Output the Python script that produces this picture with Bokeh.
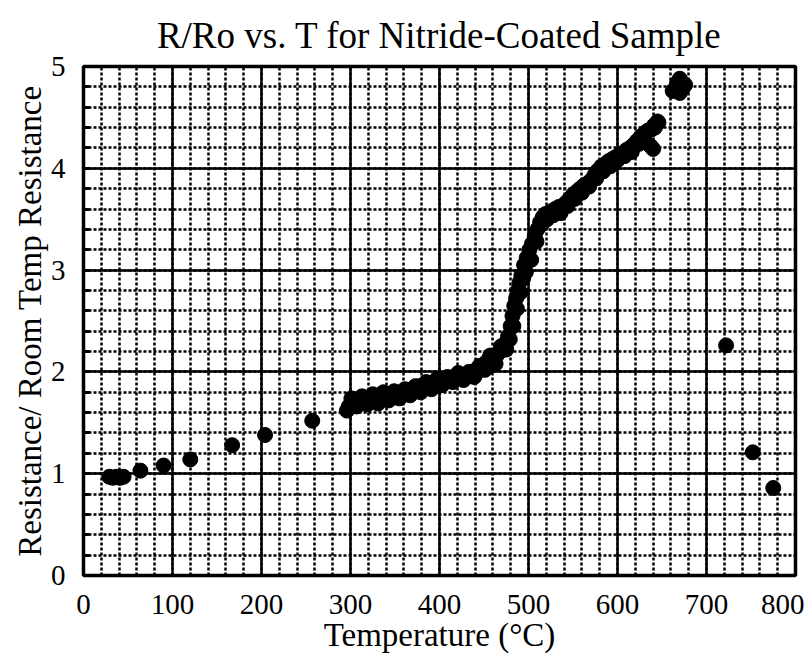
from bokeh.plotting import figure
from bokeh.models import Range1d, SingleIntervalTicker
from bokeh.embed import file_html
from bokeh.resources import INLINE

# ---- data ----
temp_low = [29, 33, 37, 41, 45, 64, 90, 120, 167, 204, 257]
ratio_low = [0.97, 0.96, 0.97, 0.96, 0.97, 1.03, 1.08, 1.14, 1.28, 1.38, 1.52]

temp_band = [296, 298, 300, 303, 306, 309, 312, 315, 318, 321, 324, 327, 330, 333,
             336, 339, 342, 345, 348, 351, 354, 357, 360, 363, 366, 369, 372, 375,
             378, 381, 384, 387, 390, 393, 396, 399, 402, 405, 408, 411, 414, 417,
             420, 423, 426, 429, 432, 435, 438, 441, 444, 447, 450, 453, 456, 459,
             462, 465, 468, 471, 474, 477, 480, 482, 484, 486, 488, 490, 492, 495,
             498, 501, 504, 507, 510, 513, 516, 519, 522, 526, 530, 534, 538, 542,
             546, 550, 554, 558, 562, 566, 570, 574, 578, 582, 586, 590, 594, 598,
             602, 606, 610, 614, 618, 622, 626, 630, 634, 638, 642, 646,
             628, 633, 641, 645, 637, 640]
ratio_band = [1.62, 1.66, 1.68, 1.70, 1.68, 1.71, 1.72, 1.70, 1.73, 1.72, 1.74, 1.71, 1.75, 1.74,
              1.76, 1.73, 1.77, 1.76, 1.78, 1.75, 1.79, 1.80, 1.78, 1.81, 1.80, 1.83, 1.84, 1.82,
              1.86, 1.85, 1.87, 1.88, 1.86, 1.89, 1.90, 1.88, 1.92, 1.91, 1.93, 1.92, 1.94, 1.93,
              1.95, 1.96, 1.94, 1.97, 1.98, 1.96, 2.00, 2.02, 2.01, 2.05, 2.07, 2.10, 2.12, 2.11,
              2.15, 2.17, 2.20, 2.24, 2.28, 2.35, 2.45, 2.55, 2.65, 2.72, 2.80, 2.88, 2.95, 3.05,
              3.12, 3.20, 3.26, 3.33, 3.40, 3.47, 3.52, 3.55, 3.56, 3.58, 3.60, 3.62, 3.63, 3.66,
              3.70, 3.74, 3.77, 3.80, 3.83, 3.85, 3.88, 3.93, 3.98, 4.02, 4.04, 4.07, 4.09, 4.11,
              4.13, 4.15, 4.18, 4.20, 4.23, 4.27, 4.31, 4.34, 4.37, 4.38, 4.40, 4.45,
              4.30, 4.36, 4.42, 4.46, 4.22, 4.19]

# second, scattered row of readings within the dense band
temp_band2 = [301, 307, 313, 319, 325, 331, 337, 343, 349, 355, 361, 367, 373, 379,
              385, 391, 397, 403, 409, 415, 421, 427, 433, 439, 445, 451, 457, 463,
              469, 475, 479, 483, 487, 491, 494, 497, 503, 509, 515, 521, 528, 536,
              544, 552, 560, 568, 576, 584, 592, 600, 608, 616, 624]
ratio_band2 = [1.74, 1.66, 1.76, 1.68, 1.78, 1.69, 1.80, 1.72, 1.81, 1.74, 1.83, 1.77, 1.86, 1.80,
               1.90, 1.83, 1.93, 1.87, 1.95, 1.90, 1.99, 1.92, 2.00, 1.95, 2.06, 2.02, 2.16, 2.08,
               2.25, 2.22, 2.32, 2.45, 2.62, 2.78, 2.92, 2.98, 3.10, 3.28, 3.45, 3.50, 3.54, 3.56,
               3.63, 3.70, 3.76, 3.82, 3.90, 3.97, 4.02, 4.08, 4.12, 4.16, 4.24]

temp_top = [662, 667, 670, 673, 676, 670]
ratio_top = [4.76, 4.84, 4.88, 4.78, 4.82, 4.74]

temp_high = [722, 752, 775]
ratio_high = [2.26, 1.21, 0.86]

title_text = "R/Ro vs. T for Nitride-Coated Sample"
x_label = "Temperature (°C)"
y_label = "Resistance/ Room Temp Resistance"

FONT = "Liberation Serif"

p = figure(width=804, height=655, output_backend="svg", toolbar_location=None,
           x_range=Range1d(0, 800), y_range=Range1d(0, 5),
           min_border_left=83, min_border_right=9, min_border_top=66, min_border_bottom=74,
           title=title_text)

p.title.text_font = FONT
p.title.text_font_size = "37px"
p.title.text_font_style = "normal"
p.title.align = "center"
p.title.text_color = "black"
p.title.standoff = 22

p.xaxis.ticker = SingleIntervalTicker(interval=100, num_minor_ticks=5)
p.yaxis.ticker = SingleIntervalTicker(interval=1, num_minor_ticks=5)

for ax in (p.xaxis[0], p.yaxis[0]):
    ax.axis_line_color = "black"
    ax.axis_line_width = 3
    ax.major_tick_in = 0
    ax.major_tick_out = 0
    ax.major_label_text_font = FONT
    ax.major_label_text_font_size = "29px"
    ax.major_label_text_color = "black"
    ax.axis_label_text_font = FONT
    ax.axis_label_text_font_style = "normal"
    ax.axis_label_text_color = "black"

p.xaxis.axis_label = x_label
p.yaxis.axis_label = y_label
p.xaxis.axis_label_text_font_size = "33px"
p.yaxis.axis_label_text_font_size = "33px"
p.xaxis.minor_tick_in = 0
p.xaxis.minor_tick_out = 0
p.yaxis.minor_tick_in = 6
p.yaxis.minor_tick_out = 0
p.yaxis.minor_tick_line_color = "black"
p.yaxis.minor_tick_line_width = 3
p.xaxis.major_label_standoff = 19
p.yaxis.major_label_standoff = 18
p.xaxis.axis_label_standoff = 0
p.yaxis.axis_label_standoff = 0

for g in (p.xgrid[0], p.ygrid[0]):
    g.grid_line_color = "black"
    g.grid_line_width = 2.5
    g.grid_line_alpha = 1.0
    g.minor_grid_line_color = "black"
    g.minor_grid_line_width = 2.5
    g.minor_grid_line_dash = "3 2"

p.outline_line_color = "black"
p.outline_line_width = 3.5
p.outline_line_alpha = 1.0

for xs, ys in ((temp_low, ratio_low), (temp_band, ratio_band), (temp_band2, ratio_band2),
               (temp_top, ratio_top), (temp_high, ratio_high)):
    p.scatter(xs, ys, size=15, fill_color="black", line_color="black")

open("out.html", "w").write(file_html(p, INLINE))
